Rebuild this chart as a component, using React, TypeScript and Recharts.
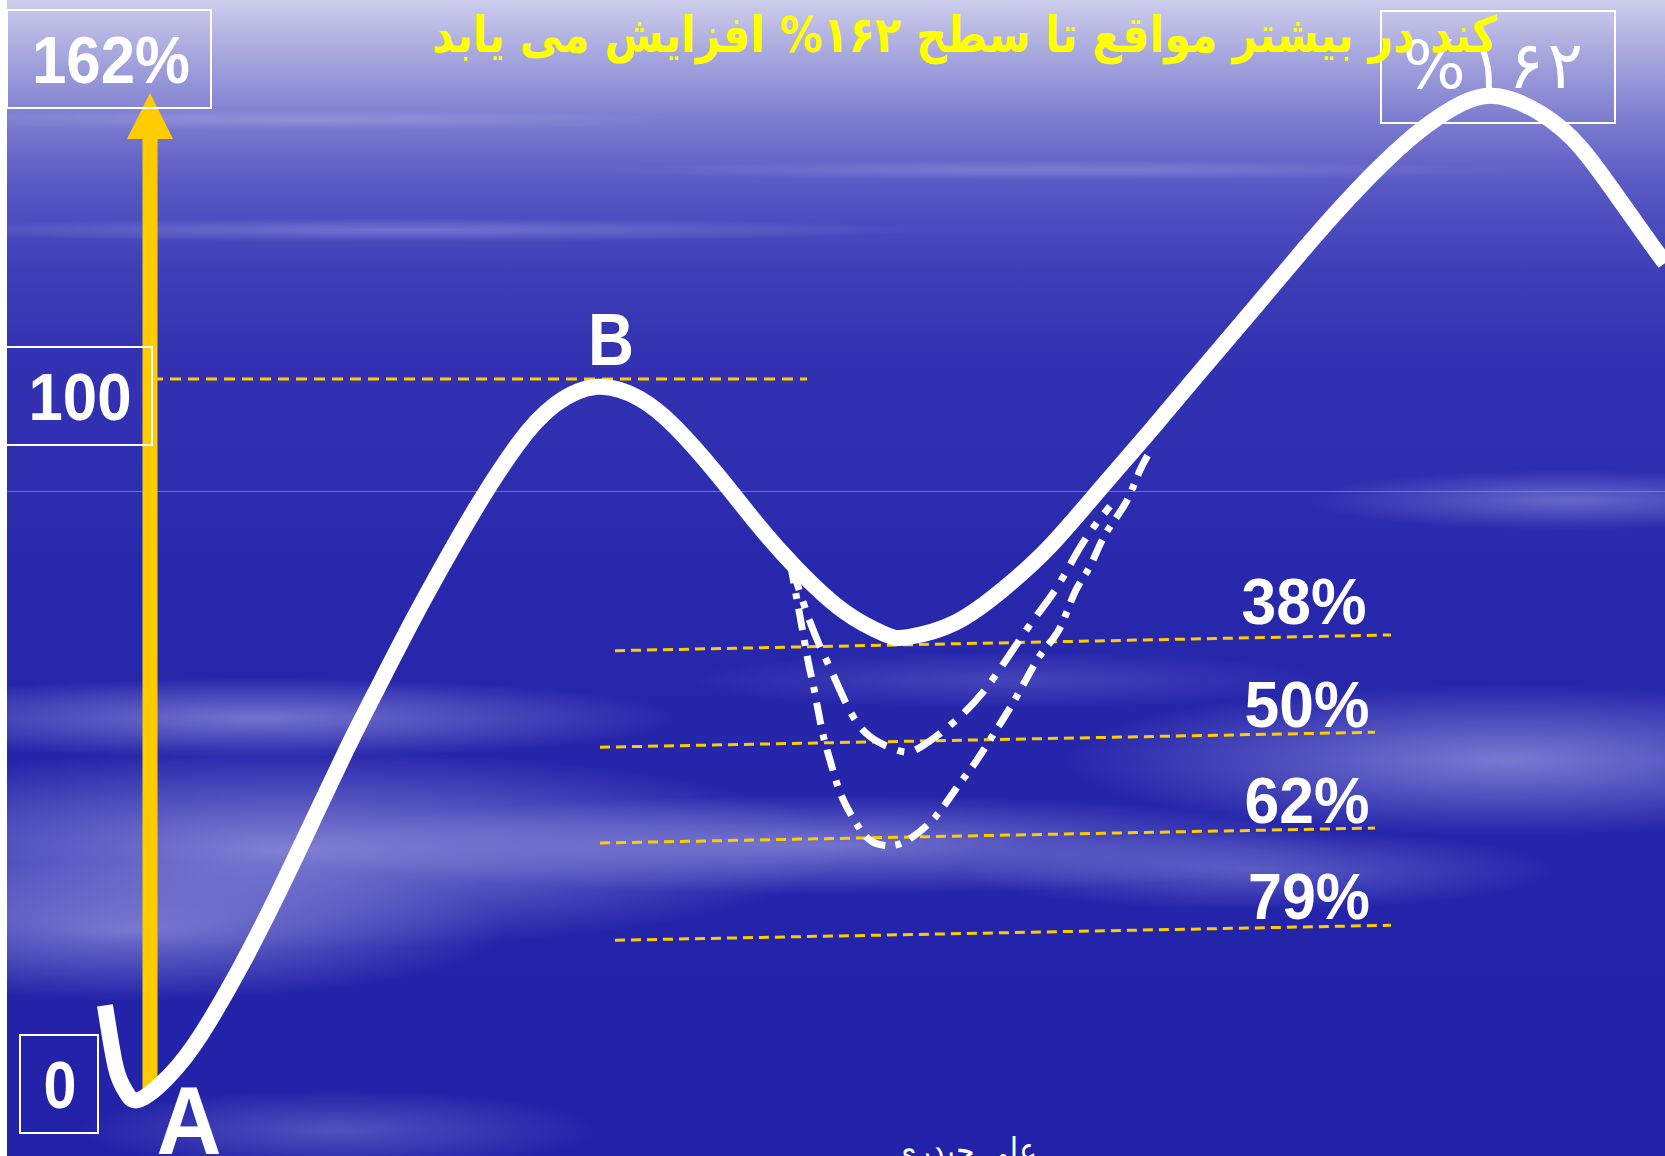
import React from 'react';
import { ComposedChart, Line, XAxis, YAxis, ReferenceLine, Scatter } from 'recharts';

// y values are in percent of the A -> B move (A = 0, B = 100), x is a time index
const mainX = [105, 116, 126, 141, 178, 210, 241, 273, 309, 346, 377, 414, 445, 477, 518, 555, 597, 639, 675, 717, 759, 796, 843, 885, 908, 955, 1005, 1050, 1100, 1150, 1200, 1256, 1306, 1356, 1406, 1446, 1491, 1541, 1581, 1621, 1651, 1665];
const mainV = [12.4, 3.6, 0.3, -0.7, 3.9, 10.3, 17.9, 26.6, 37.1, 48.0, 56.6, 66.6, 74.5, 82.2, 90.9, 96.4, 98.9, 97.3, 93.3, 86.7, 79.4, 73.6, 67.6, 64.3, 63.9, 65.9, 70.8, 76.6, 84.6, 92.7, 101.0, 110.2, 118.5, 126.3, 133.1, 137.3, 139.6, 137.1, 132.3, 124.8, 118.9, 116.2];

// pullback to the 50% level
const innerX = [790, 812, 830, 848, 869, 897, 918, 953, 983, 1008, 1035, 1058, 1083, 1110];
const innerV = [74.5, 65.3, 59.6, 54.1, 50.1, 48.1, 48.3, 51.9, 56.2, 61.1, 66.6, 71.1, 77.1, 82.2];

// pullback to the 62% level
const outerX = [790, 797, 803, 809, 814, 822, 830, 840, 853, 866, 879, 895, 912, 935, 955, 975, 993, 1010, 1027, 1043, 1060, 1075, 1090, 1105, 1125, 1138, 1150];
const outerV = [74.5, 69.1, 64.5, 59.9, 56.7, 50.9, 46.7, 42.2, 38.6, 36.0, 34.9, 34.8, 35.9, 38.7, 42.5, 46.3, 50.2, 54.0, 58.2, 61.9, 65.2, 70.2, 73.8, 78.2, 82.5, 86.6, 89.9];

// retracement levels (slightly tilted in the original drawing)
const fibLabels = ['38%', '50%', '62%', '79%'];
const fibX1 = [615, 600, 600, 615];
const fibV1 = [62.0, 48.5, 35.1, 21.5];
const fibX2 = [1391, 1375, 1375, 1391];
const fibV2 = [64.2, 50.6, 37.2, 23.6];

const bLevelX = [152, 807];
const bLevelV = 100;

// extension arrow from A up to the 162% box
const arrowX = 150;
const arrowV = [0, 133.7];
const arrowTipV = 140;

const title = 'کند در بیشتر مواقع تا سطح ۱۶۲% افزایش می یابد';
const author = 'علی حیدری';

const W = 1665;
const H = 1156;
const Y_DOMAIN: [number, number] = [-8.67, 153];

const zip = (xs: number[], vs: number[]) => xs.map((x, i) => ({ x, v: vs[i] }));

const mainData = zip(mainX, mainV);
const innerData = zip(innerX, innerV);
const outerData = zip(outerX, outerV);
const arrowData = arrowV.map(v => ({ x: arrowX, v }));
const tipData = [{ x: arrowX, v: arrowTipV }];

const WHITE = '#ffffff';
const GOLD = '#ffcc00';
const latin = '"Liberation Sans", Arial, sans-serif';
const arabic = '"DejaVu Sans", sans-serif';

const cloud = (w: number, h: number, x: number, y: number, a: number) =>
  `radial-gradient(ellipse ${w}px ${h}px at ${x}px ${y}px, rgba(190,190,240,${a}), rgba(190,190,240,0) 100%)`;

const background = [
  cloud(420, 40, 250, 718, 0.5),
  cloud(560, 100, 280, 850, 0.6),
  cloud(380, 70, 120, 930, 0.5),
  cloud(520, 50, 820, 845, 0.5),
  cloud(440, 75, 1500, 760, 0.55),
  cloud(300, 40, 1250, 870, 0.35),
  cloud(260, 30, 1560, 500, 0.4),
  cloud(320, 28, 1000, 680, 0.2),
  cloud(260, 40, 330, 1130, 0.3),
  cloud(520, 12, 400, 230, 0.35),
  cloud(460, 10, 1050, 170, 0.3),
  cloud(400, 10, 300, 120, 0.3),
  'linear-gradient(180deg, #cdcdec 0px, #aaaadf 50px, #7c7cd0 120px, #5656c4 190px, #3e3eb8 270px, #3232b2 360px, #2d2db0 490px, #2828ac 560px, #2424aa 900px, #2222a8 1156px)',
].join(', ');

const Label = ({ x, y, text, size, width, anchor = 'middle', family = latin, weight = 700, fill = WHITE, adjust = 'spacingAndGlyphs' }: any) => (
  <text
    x={x}
    y={y}
    textAnchor={anchor}
    fontFamily={family}
    fontSize={size}
    fontWeight={weight}
    fill={fill}
    textLength={width}
    lengthAdjust={adjust}
  >
    {text}
  </text>
);

const fibText = [
  { x: 1304, y: 624, w: 125 },
  { x: 1307, y: 727, w: 125 },
  { x: 1307, y: 823, w: 125 },
  { x: 1309, y: 919, w: 122 },
];

export default function App() {
  return (
    <div style={{ position: 'absolute', left: 0, top: 0, width: W, height: H, overflow: 'hidden', background: '#ffffff' }}>
      <div style={{ position: 'absolute', left: 7, top: 0, width: W - 7, height: H, background }} />
      <div style={{ position: 'absolute', left: 7, top: 491, width: W - 7, height: 1, background: 'rgba(140,140,220,0.7)' }} />

      <div style={{ position: 'absolute', left: 0, top: 0 }}>
        <ComposedChart width={W} height={H} margin={{ top: 0, right: 0, bottom: 0, left: 0 }}>
          <XAxis type="number" dataKey="x" domain={[0, W]} hide allowDataOverflow />
          <YAxis type="number" dataKey="v" domain={Y_DOMAIN} hide allowDataOverflow />

          <ReferenceLine
            segment={[{ x: bLevelX[0], y: bLevelV }, { x: bLevelX[1], y: bLevelV }]}
            stroke={GOLD}
            strokeWidth={3}
            strokeDasharray="11 7"
          />
          {fibLabels.map((l, i) => (
            <ReferenceLine
              key={l}
              segment={[{ x: fibX1[i], y: fibV1[i] }, { x: fibX2[i], y: fibV2[i] }]}
              stroke={GOLD}
              strokeWidth={3}
              strokeDasharray="10 6"
            />
          ))}

          <Line data={arrowData} dataKey="v" type="linear" stroke={GOLD} strokeWidth={15} dot={false} activeDot={false} isAnimationActive={false} />
          <Scatter
            data={tipData}
            dataKey="v"
            fill={GOLD}
            isAnimationActive={false}
            shape={(p: any) => <path d={`M${p.cx},${p.cy} L${p.cx - 23},${p.cy + 46} L${p.cx + 23},${p.cy + 46} Z`} fill={GOLD} />}
          />

          <Line data={innerData} dataKey="v" type="natural" stroke={WHITE} strokeWidth={7} strokeDasharray="30 12 7 12" dot={false} activeDot={false} isAnimationActive={false} />
          <Line data={outerData} dataKey="v" type="natural" stroke={WHITE} strokeWidth={7} strokeDasharray="22 10 6 10" dot={false} activeDot={false} isAnimationActive={false} />
          <Line data={mainData} dataKey="v" type="natural" stroke={WHITE} strokeWidth={16} dot={false} activeDot={false} isAnimationActive={false} />
        </ComposedChart>
      </div>

      <svg width={W} height={H} style={{ position: 'absolute', left: 0, top: 0, pointerEvents: 'none' }}>
        <rect x={7} y={10} width={204} height={98} fill="none" stroke={WHITE} strokeWidth={2} />
        <rect x={6} y={347} width={146} height={98} fill="none" stroke={WHITE} strokeWidth={2} />
        <rect x={20} y={1035} width={78} height={98} fill="none" stroke={WHITE} strokeWidth={2} />
        <rect x={1381} y={11} width={234} height={112} fill="none" stroke={WHITE} strokeWidth={2} />

        <Label x={111} y={83} text="162%" size={66} width={158} />
        <Label x={80} y={420} text="100" size={66} width={103} />
        <Label x={60} y={1108} text="0" size={66} width={33} />
        <Label x={611} y={365} text="B" size={74} width={46} />
        <Label x={189} y={1154} text="A" size={96} width={65} />
        {fibLabels.map((l, i) => (
          <Label key={l} x={fibText[i].x} y={fibText[i].y} text={l} size={64} width={fibText[i].w} />
        ))}

        <Label x={1403} y={88} text="%۱۶۲" size={66} width={180} anchor="start" family={arabic} weight={400} adjust="spacing" />
        <Label x={1497} y={52} text={title} size={50} width={1065} anchor="end" family={arabic} fill="#ffff00" />
        <Label x={1037} y={1163} text={author} size={36} width={144} anchor="end" family={arabic} weight={400} />
      </svg>
    </div>
  );
}
